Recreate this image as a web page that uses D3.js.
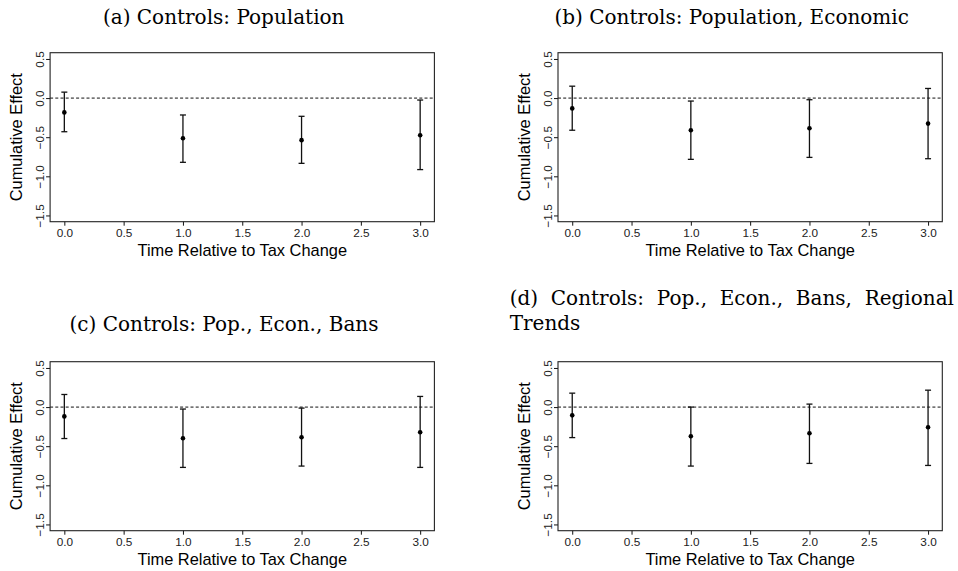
<!DOCTYPE html>
<html>
<head>
<meta charset="utf-8">
<script src="https://cdn.jsdelivr.net/npm/d3@7"></script>
<style>
  body { margin: 0; background: #fff; }
  .tick text { font-family: "Liberation Sans", Arial, sans-serif; font-size: 11.8px; fill: #222; }
  .tick line { stroke: #111; }
</style>
</head>
<body>
<div id="frame1"></div>
<script>
// time since tax change, tick values
const TIMES = [0, 1, 2, 3];
const X_TICKS = [0, 0.5, 1, 1.5, 2, 2.5, 3];
const Y_TICKS = [-1.5, -1, -0.5, 0, 0.5];

// (a) population controls
const EST_A  = [-0.183, -0.513, -0.538, -0.475];
const LOW_A  = [-0.430, -0.821, -0.834, -0.914];
const HIGH_A = [ 0.076, -0.216, -0.233, -0.025];

// (b) population, economic
const EST_B  = [-0.132, -0.411, -0.386, -0.326];
const LOW_B  = [-0.411, -0.783, -0.758, -0.775];
const HIGH_B = [ 0.152, -0.038, -0.021,  0.123];

// (c) pop., econ., bans
const EST_C  = [-0.119, -0.398, -0.385, -0.322];
const LOW_C  = [-0.402, -0.771, -0.754, -0.771];
const HIGH_C = [ 0.161, -0.025, -0.013,  0.136];

// (d) pop., econ., bans, regional trends
const EST_D  = [-0.106, -0.373, -0.335, -0.258];
const LOW_D  = [-0.390, -0.754, -0.720, -0.746];
const HIGH_D = [ 0.178,  0.000,  0.038,  0.216];

const TITLE_A = "(a) Controls: Population";
const TITLE_B = "(b) Controls: Population, Economic";
const TITLE_C = "(c) Controls: Pop., Econ., Bans";
const TITLE_D = ["(d) Controls: Pop., Econ., Bans, Regional", "Trends"];

const X_LABEL = "Time Relative to Tax Change";
const Y_LABEL = "Cumulative Effect";

const FRAME_WIDTH = 958;
const FRAME_HEIGHT = 571;
const BOX_W = 384.3;
const BOX_H = 169;
const TITLE_FONT = "DejaVu Serif, serif";
const TITLE_SIZE = "20px";

const PANELS = [
  {left: 50.1, top: 52.7, est: EST_A, low: LOW_A, high: HIGH_A, title: TITLE_A, tx: 223.7, ty: 24},
  {left: 558,  top: 52.7, est: EST_B, low: LOW_B, high: HIGH_B, title: TITLE_B, tx: 731.7, ty: 24},
  {left: 50.1, top: 361.7, est: EST_C, low: LOW_C, high: HIGH_C, title: TITLE_C, tx: 224, ty: 331},
  {left: 558,  top: 361.7, est: EST_D, low: LOW_D, high: HIGH_D, title: TITLE_D, tx: 509.7, ty: 305, justifyTo: 954}
];

const FRAME1 = d3.select("#frame1")
  .append("svg")
    .attr("width", FRAME_WIDTH)
    .attr("height", FRAME_HEIGHT);

// R style: 4% padding on both ends
const X_SCALE = d3.scaleLinear().domain([-0.12, 3.12]).range([0, BOX_W]);
const Y_SCALE = d3.scaleLinear().domain([-1.58, 0.58]).range([BOX_H, 0]);
const fmt = d3.format(".1f");

PANELS.forEach((p) => {
  const g = FRAME1.append("g")
      .attr("transform", "translate(" + p.left + "," + p.top + ")");

  // zero line
  g.append("line")
      .attr("x1", 0).attr("x2", BOX_W)
      .attr("y1", Y_SCALE(0)).attr("y2", Y_SCALE(0))
      .attr("stroke", "#111")
      .attr("stroke-width", 1)
      .attr("stroke-dasharray", "3,2.2");

  // x axis
  const xAxis = g.append("g")
      .attr("transform", "translate(0," + BOX_H + ")")
      .call(d3.axisBottom(X_SCALE).tickValues(X_TICKS).tickFormat(fmt).tickSize(4).tickPadding(2.5));
  xAxis.select(".domain").remove();

  // y axis, labels turned like R's default
  const yAxis = g.append("g")
      .call(d3.axisLeft(Y_SCALE).tickValues(Y_TICKS).tickFormat(fmt).tickSize(4));
  yAxis.select(".domain").remove();
  yAxis.selectAll("text")
      .attr("x", null)
      .attr("dy", "0.35em")
      .attr("text-anchor", "middle")
      .attr("transform", "translate(-10,0) rotate(-90)");

  // box
  g.append("rect")
      .attr("width", BOX_W)
      .attr("height", BOX_H)
      .attr("fill", "none")
      .attr("stroke", "#222")
      .attr("stroke-width", 1.1);

  // error bars
  const bars = g.selectAll(".bar")
    .data(TIMES)
    .enter()
    .append("g")
      .attr("class", "bar");

  bars.append("line")
      .attr("x1", (d) => X_SCALE(d)).attr("x2", (d) => X_SCALE(d))
      .attr("y1", (d, i) => Y_SCALE(p.low[i])).attr("y2", (d, i) => Y_SCALE(p.high[i]))
      .attr("stroke", "#111").attr("stroke-width", 1.3);

  [p.low, p.high].forEach((arr) => {
    bars.append("line")
        .attr("x1", (d) => X_SCALE(d) - 3).attr("x2", (d) => X_SCALE(d) + 3)
        .attr("y1", (d, i) => Y_SCALE(arr[i])).attr("y2", (d, i) => Y_SCALE(arr[i]))
        .attr("stroke", "#111").attr("stroke-width", 1.3);
  });

  bars.append("circle")
      .attr("cx", (d) => X_SCALE(d))
      .attr("cy", (d, i) => Y_SCALE(p.est[i]))
      .attr("r", 2.3)
      .attr("fill", "#000");

  // axis titles
  g.append("text")
      .attr("x", BOX_W / 2)
      .attr("y", BOX_H + 34)
      .attr("text-anchor", "middle")
      .attr("font-family", "Liberation Sans, Arial, sans-serif")
      .attr("font-size", "16.4px")
      .text(X_LABEL);

  g.append("text")
      .attr("transform", "translate(-28," + (BOX_H / 2) + ") rotate(-90)")
      .attr("text-anchor", "middle")
      .attr("font-family", "Liberation Sans, Arial, sans-serif")
      .attr("font-size", "16.4px")
      .text(Y_LABEL);

  // panel title
  if (!p.justifyTo) {
    FRAME1.append("text")
        .attr("x", p.tx)
        .attr("y", p.ty)
        .attr("text-anchor", "middle")
        .attr("font-family", TITLE_FONT)
        .attr("font-size", TITLE_SIZE)
        .text(p.title);
  } else {
    // first line justified, second line left
    const words = p.title[0].split(" ");
    const tg = FRAME1.append("g");
    const nodes = words.map((w) => tg.append("text")
        .attr("y", p.ty)
        .attr("font-family", TITLE_FONT)
        .attr("font-size", TITLE_SIZE)
        .text(w));
    const widths = nodes.map((n) => n.node().getComputedTextLength());
    const gap = (p.justifyTo - p.tx - d3.sum(widths)) / (words.length - 1);
    let x = p.tx;
    nodes.forEach((n, i) => { n.attr("x", x); x += widths[i] + gap; });
    FRAME1.append("text")
        .attr("x", p.tx)
        .attr("y", p.ty + 25)
        .attr("font-family", TITLE_FONT)
        .attr("font-size", TITLE_SIZE)
        .text(p.title[1]);
  }
});
</script>
</body>
</html>
